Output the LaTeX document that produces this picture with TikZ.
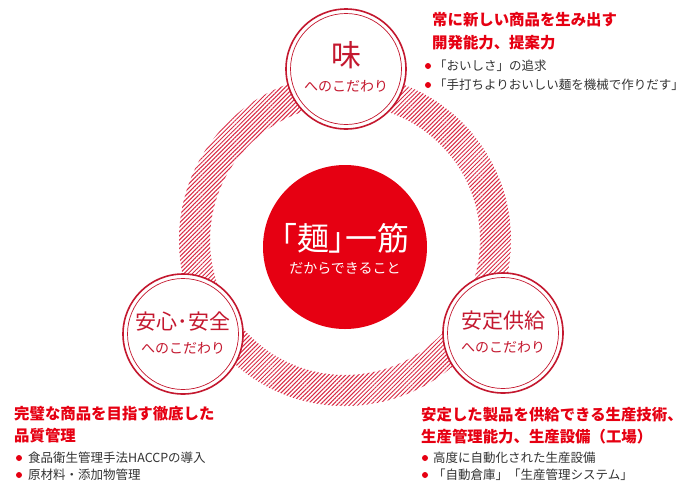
\documentclass[tikz,border=0pt]{standalone}
\usepackage{fontspec}
\newfontfamily\cjk{Noto Sans CJK JP}
\newfontfamily\cjkp[RawFeature=+palt]{Noto Sans CJK JP}
\usetikzlibrary{patterns.meta}
\definecolor{mred}{HTML}{E60012}
\definecolor{dred}{HTML}{C4182F}
\definecolor{ringred}{HTML}{D92B45}
\definecolor{txt}{HTML}{333333}
\tikzset{
  bubble/.style={circle, fill=white, draw=dred, line width=1.6pt, minimum size=120pt, inner sep=0pt},
  bigtxt/.style={font=\cjkp\fontsize{21}{21}\selectfont, text=dred, inner sep=0pt},
  subtxt/.style={font=\cjk\fontsize{14}{14}\selectfont, text=dred, inner sep=0pt},
  head/.style={font=\cjk\bfseries\fontsize{15.4}{15.4}\selectfont, text=mred, anchor=west, inner sep=0pt},
  item/.style={font=\cjk\fontsize{12.5}{12.5}\selectfont, text=txt, anchor=west, inner sep=0pt},
  dot/.style={circle, fill=mred, minimum size=6pt, inner sep=0pt}
}
\begin{document}
\begin{tikzpicture}[x=1pt,y=-1pt]
\useasboundingbox (0,0) rectangle (693,483);
\fill[white] (0,0) rectangle (693,483);
% hatched ring
\fill[pattern={Lines[angle=45,distance=3pt,line width=1pt]}, pattern color=ringred, even odd rule]
  (345,240) circle[radius=166] (345,240) circle[radius=135];
% centre
\node[circle, fill=mred, minimum size=164pt, inner sep=0pt] (core) at (345,247) {};
\node[font=\cjkp\fontsize{32}{32}\selectfont, text=white, inner sep=0pt] (coreT) at (345,238) {「麺」一筋};
\node[font=\cjk\fontsize{14}{14}\selectfont, text=white, inner sep=0pt] (coreS) at (345,268) {だからできること};
% top bubble
\node[bubble] (taste) at (346,69) {};
\draw[dred, line width=0.7pt] (taste.center) circle[radius=55.5];
\node[font=\cjk\fontsize{30}{30}\selectfont, text=dred, inner sep=0pt] (tasteT) at (346,55) {味};
\node[subtxt] (tasteS) at (346,86) {へのこだわり};
% left bubble
\node[bubble] (safe) at (183,334) {};
\draw[dred, line width=0.7pt] (safe.center) circle[radius=55.5];
\node[bigtxt] (safeT) at (183,322) {安心･安全};
\node[subtxt] (safeS) at (183,348) {へのこだわり};
% right bubble
\node[bubble] (supply) at (503,333) {};
\draw[dred, line width=0.7pt] (supply.center) circle[radius=55.5];
\node[bigtxt] (supplyT) at (503,321) {安定供給};
\node[subtxt] (supplyS) at (503,347) {へのこだわり};
% top-right text
\node[head] (h1a) at (432,20) {常に新しい商品を生み出す};
\node[head] (h1b) at (432,43) {開発能力、提案力};
\node[dot] (d1a) at (428,66) {};
\node[item] (i1a) at (434,66) {「おいしさ」の追求};
\node[dot] (d1b) at (428,85) {};
\node[item] (i1b) at (434,85) {「手打ちよりおいしい麺を機械で作りだす」};
% bottom-left text
\node[head] (h2a) at (14,414) {完璧な商品を目指す徹底した};
\node[head] (h2b) at (14,436) {品質管理};
\node[dot] (d2a) at (19,458) {};
\node[item] (i2a) at (28,458) {食品衛生管理手法HACCPの導入};
\node[dot] (d2b) at (19,475) {};
\node[item] (i2b) at (28,475) {原材料・添加物管理};
% bottom-right text
\node[head] (h3a) at (421,415) {安定した製品を供給できる生産技術、};
\node[head] (h3b) at (421,437) {生産管理能力、生産設備（工場）};
\node[dot] (d3a) at (425,458) {};
\node[item] (i3a) at (433,458) {高度に自動化された生産設備};
\node[dot] (d3b) at (425,475) {};
\node[item] (i3b) at (433,475) {「自動倉庫」「生産管理システム」};
\end{tikzpicture}
\end{document}
